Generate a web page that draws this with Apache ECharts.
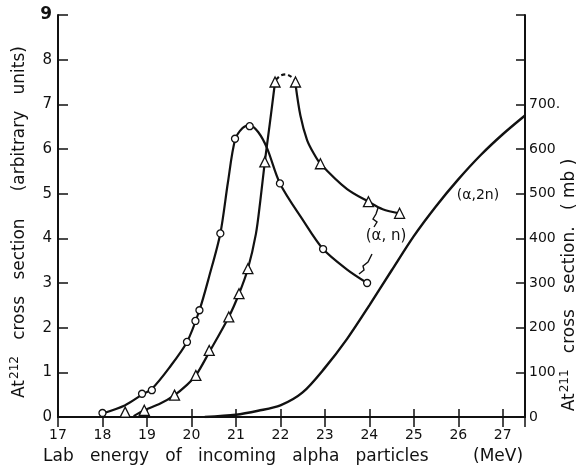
<!DOCTYPE html>
<html>
<head>
<meta charset="utf-8">
<script src="https://cdn.jsdelivr.net/npm/echarts@6.0.0/dist/echarts.min.js"></script>
<style>
    html, body { margin: 0; padding: 0; background: #fff; }
    #main { width: 582px; height: 468px; }
</style>
</head>
<body>
<div id="main"></div>
<script>
// (alpha,n) circles, At212 arbitrary units
var circlePoints = [
    [18.0, 0.09], [18.89, 0.52], [19.11, 0.6], [19.9, 1.68], [20.09, 2.15],
    [20.18, 2.39], [20.65, 4.11], [20.98, 6.23], [21.31, 6.51], [21.99, 5.23],
    [22.96, 3.76], [23.95, 3.0]
];
// triangles
var trianglePoints = [
    [18.51, 0.11], [18.94, 0.15], [19.62, 0.49], [20.1, 0.93], [20.4, 1.49],
    [20.84, 2.24], [21.07, 2.76], [21.27, 3.32], [21.65, 5.71], [21.88, 7.5],
    [22.34, 7.5], [22.9, 5.67], [23.98, 4.82], [24.68, 4.56]
];
// drawn curves
var circleCurve = [
    [18.0, 0.08], [18.5, 0.26], [18.89, 0.5], [19.11, 0.63], [19.5, 1.1],
    [19.9, 1.68], [20.18, 2.39], [20.4, 3.15], [20.65, 4.11],
    [20.82, 5.25], [20.98, 6.2], [21.15, 6.47], [21.31, 6.53], [21.5, 6.38],
    [21.7, 6.02], [21.99, 5.23], [22.5, 4.42], [22.96, 3.76], [23.5, 3.3],
    [23.95, 3.0]
];
var triangleRise = [
    [18.7, 0.02], [18.94, 0.15], [19.3, 0.3], [19.62, 0.49], [19.9, 0.72],
    [20.1, 0.93], [20.4, 1.45], [20.84, 2.24], [21.07, 2.76], [21.27, 3.32],
    [21.45, 4.1], [21.55, 4.85], [21.65, 5.71], [21.76, 6.55], [21.88, 7.5]
];
var trianglePeak = [
    [21.9, 7.55], [22.0, 7.64], [22.12, 7.67], [22.24, 7.62], [22.32, 7.55]
];
var triangleFall = [
    [22.34, 7.45], [22.45, 6.75], [22.6, 6.2], [22.75, 5.9], [22.9, 5.67],
    [23.5, 5.1], [23.98, 4.82], [24.3, 4.65], [24.68, 4.56]
];
// (alpha,2n) At211 in mb
var alpha2nCurve = [
    [20.3, 0], [21, 5], [21.5, 14], [22, 26], [22.5, 55], [23, 110], [23.5, 175],
    [24, 250], [24.5, 328], [25, 405], [25.5, 472], [26, 532], [26.5, 586],
    [27, 633], [27.5, 675]
];
var rightLabels = { 0: '0', 100: '100', 200: '200', 300: '300', 400: '400', 500: '500', 600: '600', 700: '700.' };

var FONT = 'DejaVu Sans';
var lineBlack = { color: '#111', width: 2.2 };

var myChart = echarts.init(document.getElementById('main'));
option = {
    backgroundColor: '#fff',
    animation: false,
    grid: { left: 58, right: 57, top: 15, bottom: 51 },
    xAxis: [{
        type: 'value', position: 'bottom', min: 17, max: 27.5, interval: 1,
        axisLine: { lineStyle: { color: '#111', width: 2 } },
        axisTick: { inside: true, length: 8, lineStyle: { color: '#111', width: 1.5 } },
        axisLabel: {
            color: '#111', fontSize: 14, fontFamily: FONT, margin: 11,
            formatter: function(v) { return v % 1 === 0 ? v : ''; }
        },
        splitLine: { show: false }
    }, {
        type: 'value', position: 'top', min: 17, max: 27.5, interval: 1,
        axisLine: { lineStyle: { color: '#111', width: 2 } },
        axisTick: { inside: true, length: 10, lineStyle: { color: '#111', width: 1.5 } },
        axisLabel: { show: false },
        splitLine: { show: false }
    }],
    yAxis: [{
        type: 'value', position: 'left', min: 0, max: 9, interval: 1,
        axisLine: { show: true, lineStyle: { color: '#111', width: 2 } },
        axisTick: { inside: true, length: 10, lineStyle: { color: '#111', width: 1.5 } },
        axisLabel: {
            color: '#111', fontSize: 15, fontFamily: FONT, margin: 6,
            formatter: function(v) { return v === 9 ? '{b|9}' : v; },
            rich: { b: { fontSize: 17, fontWeight: 'bold', fontFamily: FONT, color: '#111' } }
        },
        splitLine: { show: false }
    }, {
        type: 'value', position: 'right', min: 0, max: 900, interval: 100,
        axisLine: { show: true, lineStyle: { color: '#111', width: 2 } },
        axisTick: { inside: true, length: 9, lineStyle: { color: '#111', width: 1.5 } },
        axisLabel: {
            color: '#111', fontSize: 14, fontFamily: FONT, margin: 4,
            formatter: function(v) { return rightLabels[v] || ''; }
        },
        splitLine: { show: false }
    }],
    series: [{
        type: 'line', data: circleCurve, smooth: 0.3, showSymbol: false,
        lineStyle: lineBlack, z: 2
    }, {
        type: 'line', data: triangleRise, smooth: 0.3, showSymbol: false,
        lineStyle: lineBlack, z: 2
    }, {
        type: 'line', data: trianglePeak, smooth: 0.3, showSymbol: false,
        lineStyle: { color: '#111', width: 2.2, type: [4, 3] }, z: 2
    }, {
        type: 'line', data: triangleFall, smooth: 0.3, showSymbol: false,
        lineStyle: lineBlack, z: 2
    }, {
        type: 'line', yAxisIndex: 1, data: alpha2nCurve, smooth: 0.3, showSymbol: false,
        lineStyle: { color: '#111', width: 2.4 }, z: 2
    }, {
        type: 'scatter', data: circlePoints, symbol: 'circle', symbolSize: 7,
        itemStyle: { color: '#fff', borderColor: '#111', borderWidth: 1.3, opacity: 1 }, z: 3
    }, {
        type: 'scatter', data: trianglePoints, symbol: 'triangle', symbolSize: 10,
        itemStyle: { color: '#fff', borderColor: '#111', borderWidth: 1.3, opacity: 1 }, z: 3
    }],
    graphic: [{
        type: 'text', x: 20, y: 222, rotation: Math.PI / 2,
        style: {
            text: '{a|At}{s|212}{a|   cross   section     (arbitrary   units)}',
            align: 'center', verticalAlign: 'middle', fill: '#111',
            rich: {
                a: { fontSize: 17, fontFamily: FONT, fill: '#111' },
                s: { fontSize: 12, fontFamily: FONT, fill: '#111', verticalAlign: 'top', padding: [0, 0, 10, 1] }
            }
        }
    }, {
        type: 'text', x: 570, y: 285, rotation: Math.PI / 2,
        style: {
            text: '{a|At}{s|211}{a|   cross   section.   ( mb )}',
            align: 'center', verticalAlign: 'middle', fill: '#111',
            rich: {
                a: { fontSize: 17, fontFamily: FONT, fill: '#111' },
                s: { fontSize: 12, fontFamily: FONT, fill: '#111', verticalAlign: 'top', padding: [0, 0, 10, 1] }
            }
        }
    }, {
        type: 'text', x: 43, y: 457,
        style: { text: 'Lab   energy   of   incoming   alpha   particles', fontSize: 17, fontFamily: FONT, fill: '#111', align: 'left', verticalAlign: 'middle' }
    }, {
        type: 'text', x: 473, y: 457,
        style: { text: '(MeV)', fontSize: 17, fontFamily: FONT, fill: '#111', align: 'left', verticalAlign: 'middle' }
    }, {
        type: 'text', x: 386, y: 236,
        style: { text: '(\u03b1, n)', fontSize: 15, fontFamily: FONT, fill: '#111', align: 'center', verticalAlign: 'middle' }
    }, {
        type: 'text', x: 478, y: 195,
        style: { text: '(\u03b1,2n)', fontSize: 14, fontFamily: FONT, fill: '#111', align: 'center', verticalAlign: 'middle' }
    }, {
        type: 'polyline',
        shape: { points: [[378, 208], [376, 214], [373, 219], [377, 222], [374, 227]] },
        style: { stroke: '#111', lineWidth: 1.4, fill: null }
    }, {
        type: 'polyline',
        shape: { points: [[372, 254], [368, 262], [363, 266], [364, 270], [359, 274]] },
        style: { stroke: '#111', lineWidth: 1.4, fill: null }
    }]
};
myChart.setOption(option);
</script>
</body>
</html>
